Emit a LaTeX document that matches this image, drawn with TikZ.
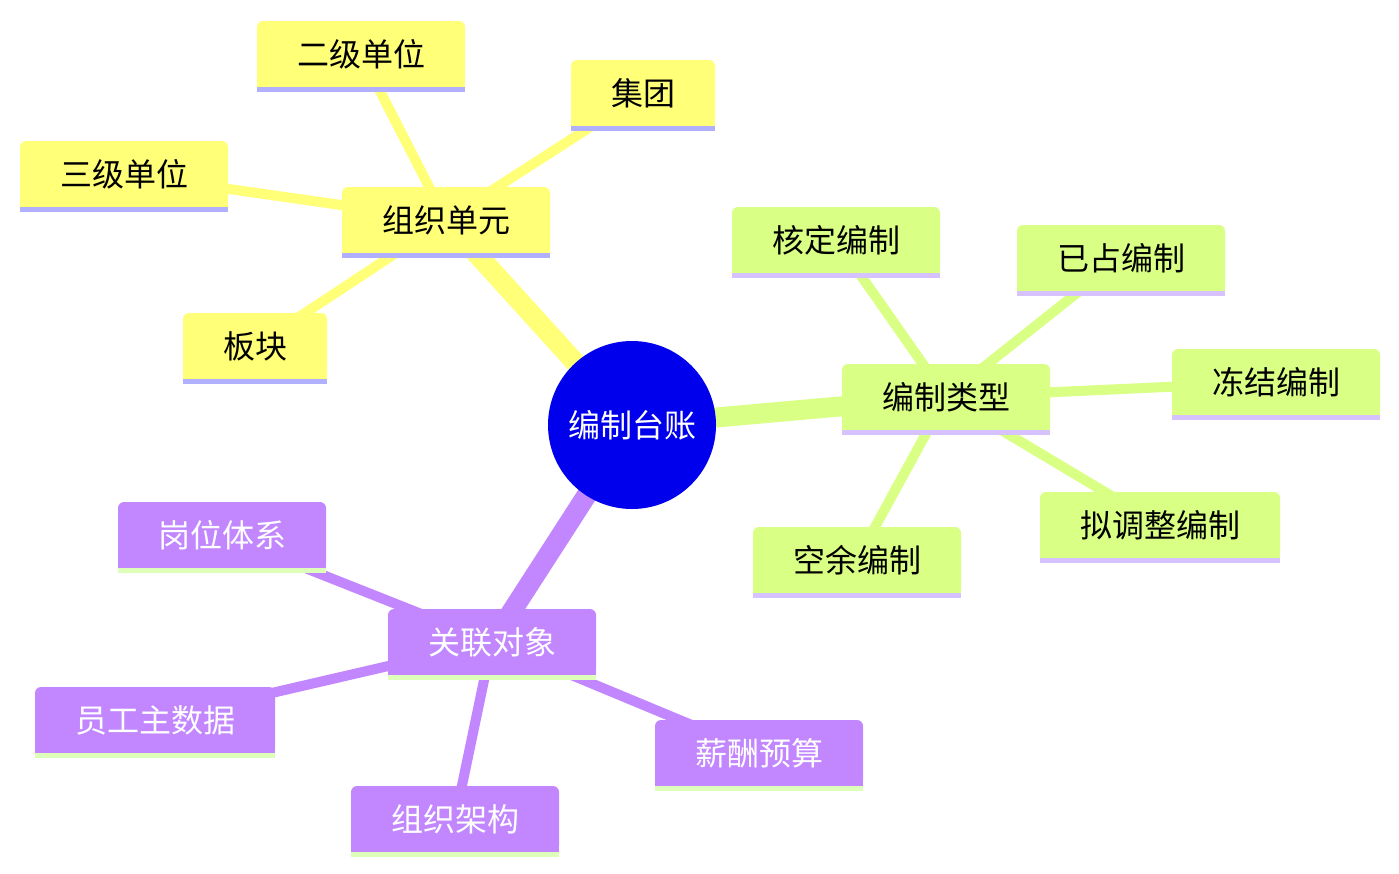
\documentclass[tikz,border=0pt]{standalone}
\usepackage{fontspec}
\setmainfont{Noto Sans CJK SC}
\usetikzlibrary{backgrounds}
\definecolor{rootblue}{HTML}{0000EC}
\definecolor{secyellow}{HTML}{FFFF78}
\definecolor{secgreen}{HTML}{D9FF84}
\definecolor{secpurple}{HTML}{C286FF}
\definecolor{lineyellow}{HTML}{B0B0FF}
\definecolor{linegreen}{HTML}{D6C2FF}
\definecolor{linepurple}{HTML}{DEFFBA}

\begin{document}
\begin{tikzpicture}[
    x=1pt, y=-1pt,
    font=\fontsize{32}{38}\selectfont,
    root/.style={circle, fill=rootblue, text=white, minimum size=168pt, inner sep=0pt},
    box/.style={rounded corners=6pt, minimum height=66pt, inner xsep=40pt, inner ysep=0pt},
    ybox/.style={box, fill=secyellow},
    gbox/.style={box, fill=secgreen},
    pbox/.style={box, fill=secpurple, text=white},
    mainedge/.style={line width=20pt},
    subedge/.style={line width=10pt}
]
\useasboundingbox (0,0) rectangle (1399,873);

% Root
\node[root] (root) at (632,425) {编制台账};

% Organisation units
\node[ybox] (org) at (446,220) {组织单元};
\node[ybox] (lvtwo) at (361,54) {二级单位};
\node[ybox] (group) at (643,93) {集团};
\node[ybox] (lvthree) at (124,174) {三级单位};
\node[ybox] (sector) at (255,346) {板块};

% Headcount types
\node[gbox] (kind) at (946,397) {编制类型};
\node[gbox] (approved) at (836,240) {核定编制};
\node[gbox] (occupied) at (1121,258) {已占编制};
\node[gbox] (frozen) at (1276,382) {冻结编制};
\node[gbox] (planned) at (1160,525) {拟调整编制};
\node[gbox] (vacant) at (857,560) {空余编制};

% Related objects
\node[pbox] (related) at (492,642) {关联对象};
\node[pbox] (posts) at (222,535) {岗位体系};
\node[pbox] (staff) at (155,720) {员工主数据};
\node[pbox] (orgchart) at (455,819) {组织架构};
\node[pbox] (budget) at (759,753) {薪酬预算};

% Square bottom corners and underlines
\foreach \n/\c/\u in {org/secyellow/lineyellow, lvtwo/secyellow/lineyellow,
    group/secyellow/lineyellow, lvthree/secyellow/lineyellow, sector/secyellow/lineyellow,
    kind/secgreen/linegreen, approved/secgreen/linegreen, occupied/secgreen/linegreen,
    frozen/secgreen/linegreen, planned/secgreen/linegreen, vacant/secgreen/linegreen,
    related/secpurple/linepurple, posts/secpurple/linepurple, staff/secpurple/linepurple,
    orgchart/secpurple/linepurple, budget/secpurple/linepurple} {
  \fill[\c] (\n.south west) rectangle ++(6,-6);
  \fill[\c] (\n.south east) rectangle ++(-6,-6);
  \draw[line width=5pt, \u] ([yshift=-2pt]\n.south west) -- ([yshift=-2pt]\n.south east);
}

% Edges
\begin{scope}[on background layer]
\draw[mainedge, secyellow] (root.center) -- (org.center);
\draw[mainedge, secgreen] (root.center) -- (kind.center);
\draw[mainedge, secpurple] (root.center) -- (related.center);
\foreach \t in {lvtwo, group, lvthree, sector}
  \draw[subedge, secyellow] (org.center) -- (\t.center);
\foreach \t in {approved, occupied, frozen, planned, vacant}
  \draw[subedge, secgreen] (kind.center) -- (\t.center);
\foreach \t in {posts, staff, orgchart, budget}
  \draw[subedge, secpurple] (related.center) -- (\t.center);
\end{scope}

\end{tikzpicture}
\end{document}
